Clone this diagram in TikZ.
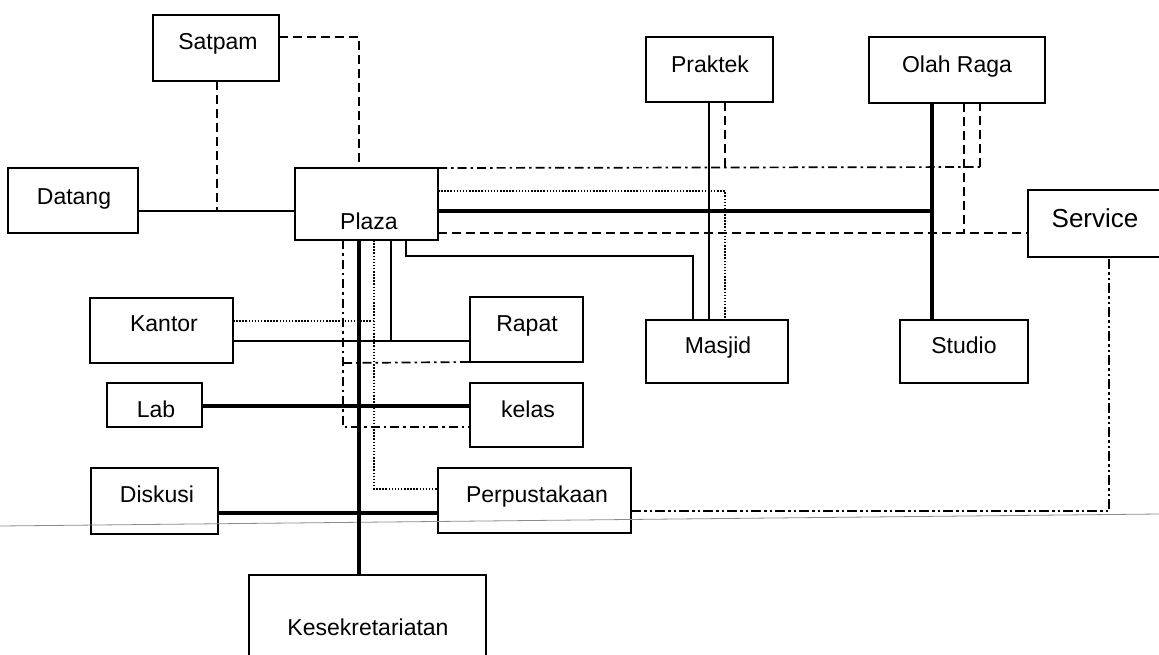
\documentclass[tikz,border=0pt]{standalone}
\usepackage{fontspec}
\setmainfont{Liberation Sans}
\begin{document}
\begin{tikzpicture}[x=1pt,y=-1pt,
  box/.style={draw, line width=2pt, inner sep=0pt, outer sep=0pt},
  lbl/.style={anchor=base, inner sep=0pt, font=\fontsize{23}{27}\selectfont},
  lnthin/.style={line width=1.6pt},
  lnmid/.style={line width=2.6pt},
  lnthick/.style={line width=3.6pt},
  lndash/.style={line width=1.7pt, dash pattern=on 9pt off 5pt},
  lndashdot/.style={line width=1.7pt, dash pattern=on 9pt off 4pt on 2.5pt off 4pt},
  lndot/.style={line width=1.5pt, dash pattern=on 1.5pt off 1.6pt},
  lndashdotdot/.style={line width=1.9pt, dash pattern=on 10pt off 3pt on 2.5pt off 3pt on 2.5pt off 3pt},
  scanline/.style={line width=0.8pt, black!45}
]
\useasboundingbox (0,0) rectangle (1159,654);
\clip (0,0) rectangle (1159,654);
\fill[white] (0,0) rectangle (1159,654);

% rooms
\node[box, minimum width=126, minimum height=66] (satpam) at (216,48) {};
\node[box, minimum width=130, minimum height=65] (datang) at (73,200.5) {};
\node[box, minimum width=143, minimum height=72] (plaza) at (366.5,204) {};
\node[box, minimum width=127, minimum height=65] (praktek) at (709.5,69.5) {};
\node[box, minimum width=176, minimum height=66] (olahraga) at (957,70) {};
\node[box, minimum width=147, minimum height=67] (service) at (1101.5,223.5) {};
\node[box, minimum width=143, minimum height=65] (kantor) at (161.5,330.5) {};
\node[box, minimum width=113, minimum height=65] (rapat) at (526.5,329.5) {};
\node[box, minimum width=142, minimum height=63] (masjid) at (717,351.5) {};
\node[box, minimum width=128, minimum height=63] (studio) at (964,351.5) {};
\node[box, minimum width=95, minimum height=44] (lab) at (154.5,405) {};
\node[box, minimum width=113, minimum height=64] (kelas) at (526.5,415) {};
\node[box, minimum width=127, minimum height=66] (diskusi) at (154.5,501) {};
\node[box, minimum width=193, minimum height=65] (perpus) at (534.5,500.5) {};
\node[box, minimum width=237, minimum height=105] (kesek) at (367.5,627.5) {};

% room names
\node[lbl] (satpam-t) at (218,49) {Satpam};
\node[lbl] (datang-t) at (74,204) {Datang};
\node[lbl] (plaza-t) at (369,229) {Plaza};
\node[lbl] (praktek-t) at (710,72) {Praktek};
\node[lbl] (olahraga-t) at (957,72) {Olah Raga};
\node[lbl, font=\fontsize{26}{30}\selectfont] (service-t) at (1095,227) {Service};
\node[lbl] (kantor-t) at (164,331) {Kantor};
\node[lbl] (rapat-t) at (527,331) {Rapat};
\node[lbl] (masjid-t) at (718,353) {Masjid};
\node[lbl] (studio-t) at (964,353) {Studio};
\node[lbl] (lab-t) at (156,417) {Lab};
\node[lbl] (kelas-t) at (528,417) {kelas};
\node[lbl] (diskusi-t) at (157,502) {Diskusi};
\node[lbl] (perpus-t) at (537,502) {Perpustakaan};
\node[lbl] (kesek-t) at (368,635) {Kesekretariatan};

% junction points
\coordinate (sj) at (217,211);
\coordinate (ddA) at (725,167);
\coordinate (ddB) at (980,167);
\coordinate (dsA) at (964,233);
\coordinate (thA) at (932,211);
\coordinate (msA) at (406,256);
\coordinate (ddC) at (343,363);
\coordinate (kpA) at (391,341);
\coordinate (kdA) at (374,321);

% faint scan line
\draw[scanline] (0,526) -- (1159,514);

% Datang - Plaza, Satpam
\draw[lnthin] (datang.east |- 0,211) -- (plaza.west |- 0,211);
\draw[lndash] (satpam.south -| 217,0) -- (sj);
\draw[lndash] (satpam.east |- 0,37) -| (plaza.north -| 359,0);

% Plaza eastwards
\draw[lndashdot] (plaza.north east) -- (ddB);
\draw[lndash] (ddB) -- (olahraga.south -| 980,0);
\draw[lndash] (praktek.south -| 725,0) -- (ddA);
\draw[lndot] (plaza.east |- 0,191) -| (masjid.north -| 725,0);
\draw[lnthick] (plaza.east |- 0,211) -- (thA);
\draw[lnthick] (olahraga.south -| 932,0) -- (studio.north -| 932,0);
\draw[lndash] (plaza.east |- 0,233) -- (service.west |- 0,233);
\draw[lndash] (olahraga.south -| 964,0) -- (dsA);
\draw[lnmid] (praktek.south -| 709,0) -- (masjid.north -| 709,0);
\draw[lnthin] (plaza.south -| 406,0) -- (msA) -| (masjid.north -| 693,0);

% Plaza southwards
\draw[lndashdot] (plaza.south -| 343,0) |- (kelas.west |- 0,427);
\draw[lndashdot] (ddC) -- (rapat.south west);
\draw[lnthick] (plaza.south -| 359,0) -- (kesek.north -| 359,0);
\draw[lndot] (plaza.south -| 374,0) |- (perpus.west |- 0,489);
\draw[lnthin] (plaza.south -| 391,0) -- (kpA);

% west wing
\draw[lndot] (kantor.east |- 0,321) -- (kdA);
\draw[lnthin] (kantor.east |- 0,341) -- (rapat.west |- 0,341);
\draw[lnthick] (lab.east |- 0,406) -- (kelas.west |- 0,406);
\draw[lnthick] (diskusi.east |- 0,513) -- (perpus.west |- 0,513);

% Perpustakaan - Service
\draw[lndashdotdot] (perpus.east |- 0,511) -| (service.south -| 1109,0);
\end{tikzpicture}
\end{document}
